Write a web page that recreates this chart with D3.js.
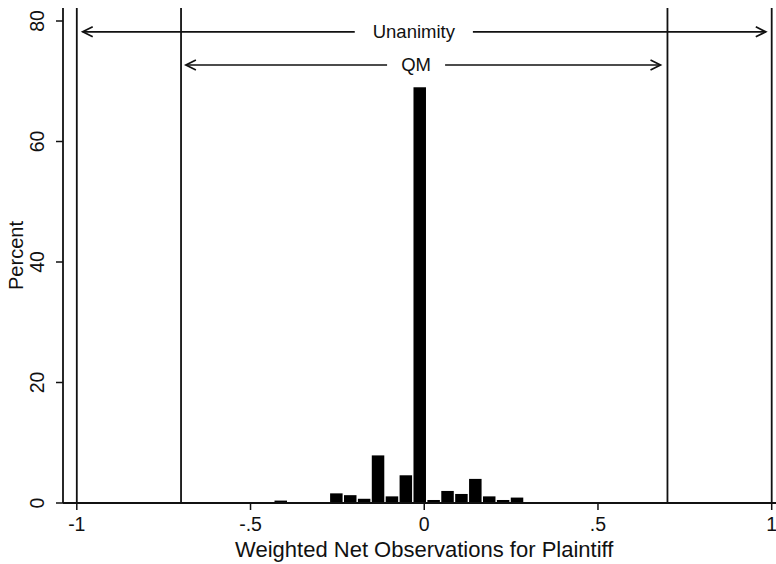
<!DOCTYPE html>
<html>
<head>
<meta charset="utf-8">
<script src="https://cdn.jsdelivr.net/npm/d3@7"></script>
<style>
  body { margin: 0; background: #fff; }
  svg { font-family: "Liberation Sans", Arial, sans-serif; }
</style>
</head>
<body>
<div id="chart"></div>
<script>
// histogram bins (center of each 0.04-wide bin) and percent of cases
const binCenters = [-0.853, -0.653, -0.533, -0.413, -0.373, -0.293,
  -0.253, -0.213, -0.173, -0.133, -0.093, -0.053, -0.013,
  0.027, 0.067, 0.107, 0.147, 0.187, 0.227, 0.267, 0.307];
const percents = [0.15, 0.15, 0.1, 0.4, 0.1, 0.1,
  1.6, 1.3, 0.7, 7.9, 1.1, 4.6, 69.0,
  0.5, 2.0, 1.5, 4.0, 1.1, 0.5, 0.9, 0.1];
const binWidth = 0.04;

const xTicks = [-1, -0.5, 0, 0.5, 1];
const xTickLabels = ["-1", "-.5", "0", ".5", "1"];
const yTicks = [0, 20, 40, 60, 80];

// reference lines and their labels
const refLines = [-1, -0.7, 0.7, 1];
const ranges = [
  { label: "Unanimity", from: -0.983, to: 0.983, y: 78.2, gap: [-0.2, 0.14] },
  { label: "QM", from: -0.686, to: 0.68, y: 72.7, gap: [-0.107, 0.06] }
];

const width = 776, height = 564;
const svg = d3.select("#chart").append("svg")
  .attr("width", width)
  .attr("height", height);

const x = d3.scaleLinear().domain([-1, 1]).range([76.8, 771.7]);
const y = d3.scaleLinear().domain([0, 80]).range([503, 21]);
const plotTop = 8;
const ink = "#111";

// bars
svg.selectAll("rect.bar")
  .data(binCenters)
  .enter()
  .append("rect")
  .attr("class", "bar")
  .attr("x", (d) => x(d - binWidth / 2) + 0.7)
  .attr("width", x(binWidth) - x(0) - 1.4)
  .attr("y", (d, i) => y(percents[i]))
  .attr("height", (d, i) => y(0) - y(percents[i]))
  .attr("fill", "#000");

// vertical reference lines
svg.selectAll("line.ref")
  .data(refLines)
  .enter()
  .append("line")
  .attr("x1", (d) => x(d))
  .attr("x2", (d) => x(d))
  .attr("y1", plotTop)
  .attr("y2", y(0))
  .attr("stroke", ink)
  .attr("stroke-width", 1.8);

// arrows with label in a gap
function arrowHead(g, tipX, tipY, dir) {
  g.append("path")
    .attr("d", `M${tipX + dir * 10},${tipY - 5} L${tipX},${tipY} L${tipX + dir * 10},${tipY + 5}`)
    .attr("fill", "none")
    .attr("stroke", ink)
    .attr("stroke-width", 1.7);
}

ranges.forEach((r) => {
  const g = svg.append("g");
  const yy = y(r.y);
  g.append("line")
    .attr("x1", x(r.from)).attr("x2", x(r.gap[0]))
    .attr("y1", yy).attr("y2", yy)
    .attr("stroke", ink).attr("stroke-width", 1.7);
  g.append("line")
    .attr("x1", x(r.gap[1])).attr("x2", x(r.to))
    .attr("y1", yy).attr("y2", yy)
    .attr("stroke", ink).attr("stroke-width", 1.7);
  arrowHead(g, x(r.from), yy, 1);
  arrowHead(g, x(r.to), yy, -1);
  g.append("text")
    .attr("x", (x(r.gap[0]) + x(r.gap[1])) / 2)
    .attr("y", yy + 6.5)
    .attr("text-anchor", "middle")
    .attr("font-size", 18.5)
    .attr("fill", ink)
    .text(r.label);
});

// x axis
const xAxis = svg.append("g");
xAxis.append("line")
  .attr("x1", 63).attr("x2", width)
  .attr("y1", y(0)).attr("y2", y(0))
  .attr("stroke", ink).attr("stroke-width", 1.8);
xAxis.selectAll("line.tick")
  .data(xTicks)
  .enter()
  .append("line")
  .attr("x1", (d) => x(d)).attr("x2", (d) => x(d))
  .attr("y1", y(0)).attr("y2", y(0) + 7)
  .attr("stroke", ink).attr("stroke-width", 1.5);
xAxis.selectAll("text")
  .data(xTicks)
  .enter()
  .append("text")
  .attr("x", (d) => x(d))
  .attr("y", 531)
  .attr("text-anchor", "middle")
  .attr("font-size", 19.5)
  .attr("fill", ink)
  .text((d, i) => xTickLabels[i]);
svg.append("text")
  .attr("x", x(0))
  .attr("y", 557)
  .attr("text-anchor", "middle")
  .attr("font-size", 22)
  .attr("fill", ink)
  .text("Weighted Net Observations for Plaintiff");

// y axis
const yAxis = svg.append("g");
yAxis.append("line")
  .attr("x1", 63).attr("x2", 63)
  .attr("y1", plotTop).attr("y2", y(0))
  .attr("stroke", ink).attr("stroke-width", 1.8);
yAxis.selectAll("line.tick")
  .data(yTicks)
  .enter()
  .append("line")
  .attr("x1", 56).attr("x2", 63)
  .attr("y1", (d) => y(d)).attr("y2", (d) => y(d))
  .attr("stroke", ink).attr("stroke-width", 1.5);
yAxis.selectAll("text")
  .data(yTicks)
  .enter()
  .append("text")
  .attr("transform", (d) => `translate(44,${y(d)}) rotate(-90)`)
  .attr("text-anchor", "middle")
  .attr("font-size", 19.5)
  .attr("fill", ink)
  .text((d) => d);
svg.append("text")
  .attr("transform", `translate(23,${(plotTop + y(0)) / 2}) rotate(-90)`)
  .attr("text-anchor", "middle")
  .attr("font-size", 20)
  .attr("fill", ink)
  .text("Percent");
</script>
</body>
</html>
